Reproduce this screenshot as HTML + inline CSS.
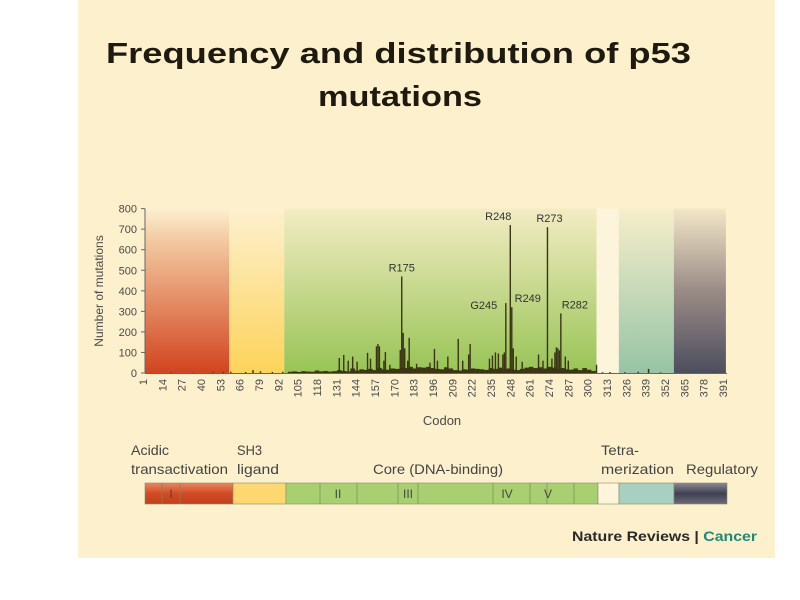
<!DOCTYPE html>
<html><head><meta charset="utf-8">
<style>
html,body{margin:0;padding:0;background:#fff;}
svg{display:block;}
text{font-family:"Liberation Sans",sans-serif;}
</style></head>
<body>
<svg id="chart" width="800" height="600" viewBox="0 0 800 600">
<defs>
<linearGradient id="gRed" x1="0" y1="0" x2="0" y2="1"><stop offset="0" stop-color="#fcefd0"/><stop offset="0.2" stop-color="#f2c8a0"/><stop offset="1" stop-color="#d2441f"/></linearGradient>
<linearGradient id="gYel" x1="0" y1="0" x2="0" y2="1"><stop offset="0" stop-color="#fdf0cf"/><stop offset="1" stop-color="#fdd35a"/></linearGradient>
<linearGradient id="gGrn" x1="0" y1="0" x2="0" y2="1"><stop offset="0" stop-color="#f3ecc4"/><stop offset="1" stop-color="#98c455"/></linearGradient>
<linearGradient id="gTeal" x1="0" y1="0" x2="0" y2="1"><stop offset="0" stop-color="#f6eecb"/><stop offset="1" stop-color="#97c4a6"/></linearGradient>
<linearGradient id="gGray" x1="0" y1="0" x2="0" y2="1"><stop offset="0" stop-color="#f3e7c8"/><stop offset="0.5" stop-color="#9a8b86"/><stop offset="1" stop-color="#4d4e5e"/></linearGradient>
<linearGradient id="bRed" x1="0" y1="0" x2="0" y2="1"><stop offset="0" stop-color="#e88660"/><stop offset="0.5" stop-color="#d24b25"/><stop offset="1" stop-color="#c0401c"/></linearGradient>
<linearGradient id="bGray" x1="0" y1="0" x2="0" y2="1"><stop offset="0" stop-color="#8a8898"/><stop offset="0.5" stop-color="#3f4050"/><stop offset="1" stop-color="#6a6a78"/></linearGradient>
</defs>
<rect x="78" y="0" width="697" height="558" fill="#fdf0cc"/>
<g fill="#1e1a10" font-weight="bold" font-size="29">
<text x="106" y="63" textLength="585" lengthAdjust="spacingAndGlyphs" font-family="'DejaVu Sans',sans-serif">Frequency and distribution of p53</text>
<text x="318" y="106" textLength="164" lengthAdjust="spacingAndGlyphs" font-family="'DejaVu Sans',sans-serif">mutations</text>
</g>
<g id="bands"></g>
<g id="bars"></g>
<g id="axes"></g>
<g id="domains"></g>
<text x="572" y="541" font-size="14" font-weight="bold" fill="#2a2a2a" textLength="185" lengthAdjust="spacingAndGlyphs">Nature Reviews | <tspan fill="#1f8a78">Cancer</tspan></text>
<script>
// ---- data ----
const peakCodons = [133,136,139,142,145,152,154,158,159,160,163,164,167,174,175,176,177,179,180,185,194,197,199,206,213,216,220,221,234,236,238,240,243,244,245,248,249,250,252,256,267,270,273,276,278,279,280,281,282,285,287,306];
const peakValues = [73,88,60,80,55,98,70,130,141,130,60,102,40,112,470,195,120,60,171,45,50,117,60,80,166,60,90,141,70,85,100,95,90,100,340,720,320,120,80,55,90,60,710,70,100,125,120,110,290,80,60,40];
const baseStart = 100, baseStep = 3;
const baseValues = [6,8,5,9,7,6,12,8,10,7,9,14,10,8,22,12,18,15,20,14,25,18,16,22,20,26,24,30,22,28,26,30,24,20,18,28,22,14,12,18,16,22,20,18,15,24,20,26,18,22,16,14,20,26,30,24,28,22,30,26,20,24,18,16,22,14,24,16,10];
const lowCodons = [20,35,48,55,60,70,75,80,88,95,310,315,325,334,341,349,370,385];
const lowValues = [3,2,4,5,6,5,14,8,5,6,4,5,4,6,20,3,2,2];
const yTicks = [0,100,200,300,400,500,600,700,800];
const xTicks = [1,14,27,40,53,66,79,92,105,118,131,144,157,170,183,196,209,222,235,248,261,274,287,300,313,326,339,352,365,378,391];
const annotations = ["R175","G245","R248","R249","R273","R282"];
const annotationCodons = [175,245,248,249,273,282];
const annotationValues = [470,340,720,320,710,290];

// ---- axes ----
const NS="http://www.w3.org/2000/svg";
const x = c => 143 + (c-1)*1.487;
const y = v => 373 - v*0.2055;
function mk(tag, attrs, parent){const e=document.createElementNS(NS,tag);for(const k in attrs)e.setAttribute(k,attrs[k]);parent.appendChild(e);return e;}
const bands=document.getElementById('bands'), bars=document.getElementById('bars'), axes=document.getElementById('axes'), dom=document.getElementById('domains');
const fills=["url(#gRed)","url(#gYel)","url(#gGrn)","#fdf4dc","url(#gTeal)","url(#gGray)"];
const bandEdges=[1,59,96,306,321,358,393];
for(let i=0;i<6;i++){
  const r=mk('rect',{x:Math.max(145,x(bandEdges[i])),y:y(800),width:x(bandEdges[i+1])-Math.max(145,x(bandEdges[i])),height:y(0)-y(800),fill:fills[i]},bands);
  
  
}
function bar(c,v,w,name){
  const r=mk('rect',{x:x(c)-w/2,y:y(v),width:w,height:y(0)-y(v),fill:'#3b3516'},bars);
  
  
}
baseValues.forEach((v,i)=>bar(baseStart+i*baseStep,v,4.6,'bar-baseline'));
lowValues.forEach((v,i)=>bar(lowCodons[i],v,1.5,'bar-low'));
peakValues.forEach((v,i)=>bar(peakCodons[i],v,1.4,'bar-codon-'+peakCodons[i]));
let l=mk('line',{x1:145,y1:y(800),x2:145,y2:y(0),stroke:'#666','stroke-width':1},axes);

l=mk('line',{x1:145,y1:y(0)+0.5,x2:727,y2:y(0)+0.5,stroke:'#666','stroke-width':1},axes);

yTicks.forEach(t=>{
  const tk=mk('line',{x1:141,y1:y(t),x2:145,y2:y(t),stroke:'#666'},axes);
  
  const tx=mk('text',{x:137,y:y(t)+4,'font-size':11,'text-anchor':'end',fill:'#4a4a4a'},axes);
  tx.textContent=t;
  
});
xTicks.forEach(t=>{
  const tx=mk('text',{x:0,y:0,'font-size':11,'text-anchor':'end',fill:'#4a4a4a',transform:`translate(${x(t)+4},379) rotate(-90)`},axes);
  tx.textContent=t;
  
});
let t=mk('text',{x:0,y:0,'font-size':12,'text-anchor':'middle',fill:'#4a4a4a',transform:'translate(103,291) rotate(-90)'},axes);
t.textContent='Number of mutations';
t=mk('text',{x:442,y:425,'font-size':13,'text-anchor':'middle',fill:'#4a4a4a'},axes);
t.textContent='Codon';
const annDx=[0,-22,-12,16,2,14];
annotations.forEach((a,i)=>{
  const tx=mk('text',{x:x(annotationCodons[i])+annDx[i],y:y(annotationValues[i])-5,'font-size':11,'text-anchor':'middle',fill:'#333'},axes);
  if(a==='G245'){tx.setAttribute('y',y(annotationValues[i])+6);}
  tx.textContent=a;
  
});
const dFill=["url(#bRed)","#fdd870","#a8d070","#fdf4dc","#a8d0c0","url(#bGray)"];
const dEdges=[145,233,286,598,619,674,727];
for(let i=0;i<6;i++){
  const r=mk('rect',{x:dEdges[i],y:483,width:dEdges[i+1]-dEdges[i],height:21,fill:dFill[i],stroke:'#8a8a6a','stroke-width':0.6},dom);
  
}
[162,180,320,357,398,418,493,530,547,574].forEach(px=>{
  const d=mk('line',{x1:px,y1:483,x2:px,y2:504,stroke:'#7a8a5a','stroke-width':0.7},dom);
  
});
[["I",171],["II",338],["III",408],["IV",507],["V",548]].forEach(([s,px])=>{
  const tx=mk('text',{x:px,y:498,'font-size':12,'text-anchor':'middle',fill:'#444'},dom);
  tx.textContent=s;
});
const dLabels=[[131,455,"Acidic",38],[131,474,"transactivation",97],[237,455,"SH3",25],[237,474,"ligand",42],[373,474,"Core (DNA-binding)",130],[601,455,"Tetra-",38],[601,474,"merization",73],[686,474,"Regulatory",72]];
dLabels.forEach(([px,py,s,w])=>{
  const tx=mk('text',{x:px,y:py,'font-size':14,fill:'#444',textLength:w,lengthAdjust:'spacingAndGlyphs'},dom);
  tx.textContent=s;
});
</script>
</svg>
</body></html>
